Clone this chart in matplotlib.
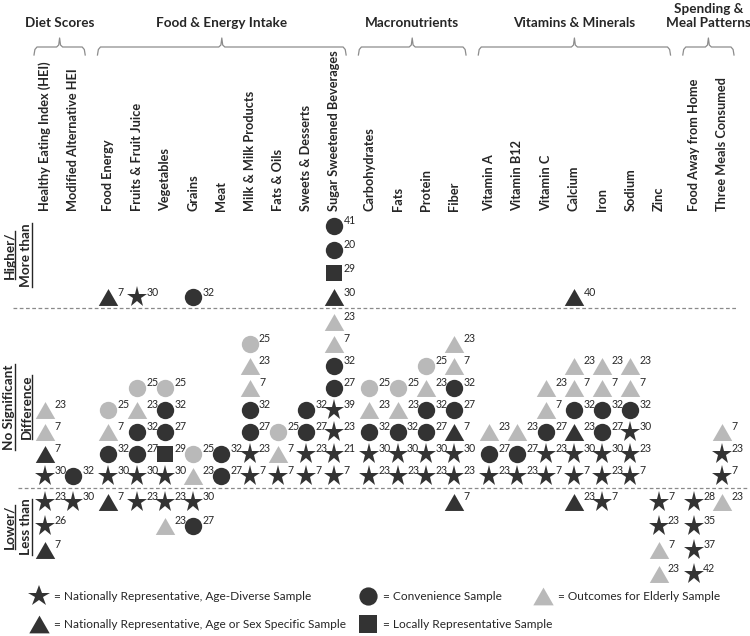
import matplotlib
matplotlib.use("Agg")
import matplotlib.pyplot as plt
from matplotlib.lines import Line2D
from matplotlib.path import Path

plt.rcParams['font.family'] = ['Lato', 'DejaVu Sans']

# ---------------- data ----------------
categories = ["Healthy Eating Index (HEI)", "Modified Alternative HEI",
              "Food Energy", "Fruits & Fruit Juice", "Vegetables", "Grains", "Meat",
              "Milk & Milk Products", "Fats & Oils", "Sweets & Desserts",
              "Sugar Sweetened Beverages",
              "Carbohydrates", "Fats", "Protein", "Fiber",
              "Vitamin A", "Vitamin B12", "Vitamin C", "Calcium", "Iron", "Sodium", "Zinc",
              "Food Away from Home", "Three Meals Consumed"]
group_names = ["Diet Scores", "Food & Energy Intake", "Macronutrients",
               "Vitamins & Minerals", "Spending &\nMeal Patterns"]
group_sizes = [2, 9, 4, 7, 2]

# sample type codes: S = nationally representative, age-diverse; T = nationally representative,
# age or sex specific; C = convenience; Q = locally representative;
# E = elderly outcomes (triangle); L = elderly outcomes (circle)
# stacks are listed from the dividing line outward
higher_types = ["", "", "T", "S", "", "C", "", "", "", "", "TQCC",
                "", "", "", "", "", "", "", "T", "", "", "", "", ""]
higher_refs = [[], [], [7], [30], [], [32], [], [], [], [], [30, 29, 20, 41],
               [], [], [], [], [], [], [], [40], [], [], [], [], []]

nosig_types = ["STEE", "C", "SCEL", "SCCEL", "SQCCL", "EL", "CC", "SSCCEEL", "SEL", "SSCC",
               "SSSSCCEE", "SSCEL", "SSCEL", "SSCCEL", "SSTCCEE",
               "SCE", "SCE", "SSCEE", "SSTCEE", "SSCCEE", "SSSCEE", "", "", "SSE"]
nosig_refs = [[30, 7, 7, 23], [32], [30, 32, 7, 25], [30, 27, 32, 23, 25], [30, 29, 27, 32, 25],
              [23, 25], [27, 32], [7, 23, 27, 32, 7, 23, 25], [7, 7, 25], [7, 23, 27, 32],
              [7, 21, 23, 39, 27, 32, 7, 23], [23, 30, 32, 23, 25], [23, 30, 32, 23, 25],
              [23, 30, 27, 32, 23, 25], [23, 30, 7, 27, 32, 7, 23],
              [23, 27, 23], [23, 27, 23], [7, 23, 27, 7, 23], [7, 30, 23, 32, 7, 23],
              [23, 30, 27, 32, 7, 23], [7, 23, 30, 32, 7, 23], [], [], [7, 23, 7]]

lower_types = ["SST", "S", "T", "S", "SE", "SC", "", "", "", "", "",
               "", "", "", "T", "", "", "", "T", "S", "", "SSEE", "SSSS", "E"]
lower_refs = [[23, 26, 7], [30], [7], [23], [23, 23], [30, 27], [], [], [], [], [],
              [], [], [], [7], [], [], [], [23], [7], [], [7, 23, 7, 23], [28, 35, 37, 42], [23]]

zone_labels = [("Higher/", "More than"), ("No Significant", "Difference"), ("Lower/", "Less than")]

legend_labels = {"S": "= Nationally Representative, Age-Diverse Sample",
                 "T": "= Nationally Representative, Age or Sex Specific Sample",
                 "C": "= Convenience Sample",
                 "Q": "= Locally Representative Sample",
                 "E": "= Outcomes for Elderly Sample"}

# ---------------- styles ----------------
DARK = "#333333"
LIGHT = "#b9b9b9"
TXT = "#262626"
tri = Path([(0, 0.87), (-1, -0.87), (1, -0.87), (0, 0.87)],
           [Path.MOVETO, Path.LINETO, Path.LINETO, Path.CLOSEPOLY])
STY = {"S": dict(marker="*", color=DARK, ms=15.5),
       "T": dict(marker=tri, color=DARK, ms=14),
       "C": dict(marker="o", color=DARK, ms=12.5),
       "Q": dict(marker="s", color=DARK, ms=12),
       "E": dict(marker=tri, color=LIGHT, ms=14),
       "L": dict(marker="o", color=LIGHT, ms=12.5)}

# ---------------- layout ----------------
W, H = 750, 636
fig = plt.figure(figsize=(W / 100, H / 100), dpi=100)
ax = fig.add_axes([0, 0, 1, 1])
X0, X1 = 45.0, 722.0
GAP = 0.25
grp_of = []
for g, n in enumerate(group_sizes):
    grp_of += [g] * n
col_x = [i + GAP * g for i, g in enumerate(grp_of)]
PX = (X1 - X0) / col_x[-1]


def px2x(p):
    return (p - X0) / PX


ax.set_xlim(px2x(0), px2x(W))
ax.set_ylim(H, 0)
ax.axis("off")

zones = [(higher_types, higher_refs, 297.0, -23.7),
         (nosig_types, nosig_refs, 476.0, -22.0),
         (lower_types, lower_refs, 502.0, 24.0)]

for types, refs, base, step in zones:
    for i, (tcodes, rlist) in enumerate(zip(types, refs)):
        for k, (code, ref) in enumerate(zip(tcodes, rlist)):
            y = base + k * step
            st = STY[code]
            ax.plot(col_x[i], y, linestyle="none", marker=st["marker"], ms=st["ms"],
                    color=st["color"], mec=st["color"], mew=0, zorder=3)
            ax.annotate(str(ref), (col_x[i], y), xytext=(6.8, 3.6), textcoords="offset points",
                        fontsize=7.6, color=TXT, ha="left", va="center", zorder=4)

# column labels
for i, name in enumerate(categories):
    ax.text(col_x[i], 211, name, rotation=90, ha="center", va="bottom",
            fontsize=9.2, fontweight="bold", color=TXT)

# group braces and headers
start = 0
for g, n in enumerate(group_sizes):
    xa = col_x[start] - 11 / PX
    xb = col_x[start + n - 1] + 12 / PX
    xc = (xa + xb) / 2
    d = 3 / PX
    bx = [xa, xa + 0.3 * d, xa + d, xc - d, xc - 0.3 * d, xc, xc + 0.3 * d, xc + d,
          xb - d, xb - 0.3 * d, xb]
    by = [55, 49.5, 47, 47, 45, 38, 45, 47, 47, 49.5, 55]
    ax.plot(bx, by, color="#8c8c8c", lw=0.9, solid_joinstyle="round")
    ax.text(xc, 16 if "\n" in group_names[g] else 23, group_names[g], ha="center",
            va="center", fontsize=9.7, fontweight="bold", color=TXT, linespacing=1.15)
    start += n

# zone dividers
ax.plot([px2x(13), px2x(738)], [308, 308], color="#8a8a8a", lw=0.9, ls=(0, (3, 2)))
ax.plot([px2x(18), px2x(748)], [488, 488], color="#8a8a8a", lw=0.9, ls=(0, (3, 2)))

# zone labels (rotated, underlined)
zone_centers = [255, 407, 527]
ztexts = []
for (l1, l2), yc in zip(zone_labels, zone_centers):
    for line, xp in ((l1, 9.5), (l2, 26.5)):
        t = ax.text(px2x(xp), yc, line, rotation=90, ha="center", va="center",
                    fontsize=9.7, fontweight="bold", color=TXT)
        ztexts.append(t)


# legends: three independent columns
def handle(code):
    st = STY[code]
    return Line2D([], [], linestyle="none", marker=st["marker"], ms=st["ms"] * 1.05,
                  color=st["color"], mew=0)


LFS = 8.6
legend_columns = [(["S", "T"], 30), (["C", "Q"], 359), (["E"], 534)]
for codes, x0 in legend_columns:
    leg = fig.legend([handle(c) for c in codes], [legend_labels[c] for c in codes],
                     loc="upper left", bbox_to_anchor=(x0 / W, 1 - 591 / H),
                     frameon=False, fontsize=LFS, handlelength=1.55, handletextpad=0.5,
                     labelspacing=1.45, borderpad=0, borderaxespad=0)
    for t in leg.get_texts():
        t.set_color(TXT)

# underline zone labels
fig.canvas.draw()
r = fig.canvas.get_renderer()
for t in ztexts:
    bb = t.get_window_extent(r)
    xl = bb.x1 - 0.5
    fig.add_artist(Line2D([xl / W, xl / W], [bb.y0 / H, bb.y1 / H],
                          transform=fig.transFigure, color=TXT, lw=1.0))

fig.savefig("out.png", dpi=100)
